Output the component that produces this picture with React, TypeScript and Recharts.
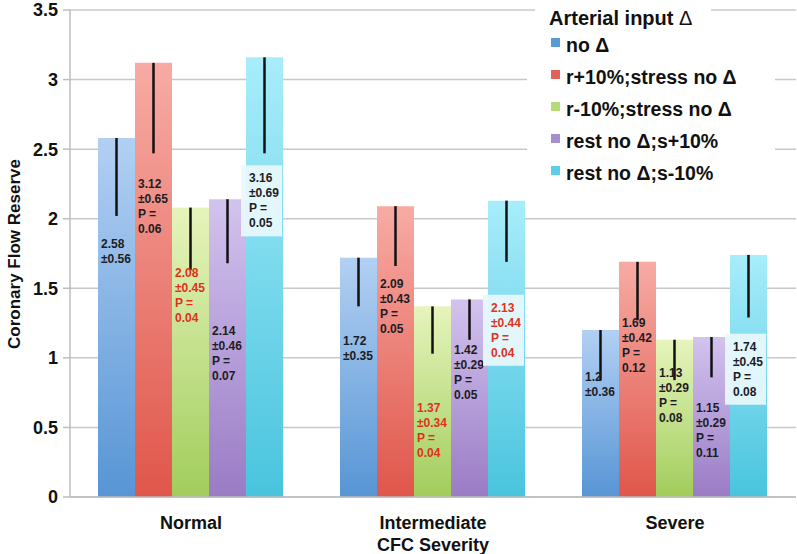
import React from 'react';
import { BarChart, Bar, XAxis, YAxis, CartesianGrid, ErrorBar, Legend } from 'recharts';

const categories = ['Normal', 'Intermediate', 'Severe'];
const seriesNames = ['no Δ', 'r+10%;stress no Δ', 'r-10%;stress no Δ', 'rest no Δ;s+10%', 'rest no Δ;s-10%'];

// mean CFR per severity
const noDelta = [2.58, 1.72, 1.2];
const rPlus = [3.12, 2.09, 1.69];
const rMinus = [2.08, 1.37, 1.13];
const sPlus = [2.14, 1.42, 1.15];
const sMinus = [3.16, 2.13, 1.74];

// standard deviations
const sdNoDelta = [0.56, 0.35, 0.36];
const sdRPlus = [0.65, 0.43, 0.42];
const sdRMinus = [0.45, 0.34, 0.29];
const sdSPlus = [0.46, 0.29, 0.29];
const sdSMinus = [0.69, 0.44, 0.45];

// p values vs no change
const pNoDelta = [null, null, null];
const pRPlus = [0.06, 0.05, 0.12];
const pRMinus = [0.04, 0.04, 0.08];
const pSPlus = [0.07, 0.05, 0.11];
const pSMinus = [0.05, 0.04, 0.08];

const yTicks = [0, 0.5, 1, 1.5, 2, 2.5, 3, 3.5];

const values = [noDelta, rPlus, rMinus, sPlus, sMinus];
const sds = [sdNoDelta, sdRPlus, sdRMinus, sdSPlus, sdSMinus];
const pvals = [pNoDelta, pRPlus, pRMinus, pSPlus, pSMinus];
const keys = ['s0', 's1', 's2', 's3', 's4'];

// where the first text line of each bar label sits (axis units) - hand placed like the original
const labelAt = [
  [1.82, 1.12, 0.86],
  [2.25, 1.53, 1.25],
  [1.61, 0.64, 0.89],
  [1.19, 1.06, 0.64],
  [2.29, 1.36, 1.08],
];

const colors = [
  { top: '#b2d0f3', bottom: '#5795d5', key: '#5b9bd5' },
  { top: '#f7aba4', bottom: '#e0564a', key: '#e2625a' },
  { top: '#e6f4bc', bottom: '#a1cd5c', key: '#b6da78' },
  { top: '#d2c3ee', bottom: '#9a7bc5', key: '#a78fcf' },
  { top: '#a8edfb', bottom: '#49c4de', key: '#5ccfe7' },
];

const data = categories.map((name, i) => {
  const row: any = { name };
  keys.forEach((k, s) => {
    row[k] = values[s][i];
    row[k + 'err'] = [sds[s][i], 0];
  });
  return row;
});

const font = '"Liberation Sans", Arial, sans-serif';

const makeLabel = (s: number) => (props: any) => {
  const { x, y, width, height, value } = props;
  let i = props.index;
  if (i == null) i = values[s].indexOf(value);
  const v = values[s][i];
  if (v == null || !height) return null;
  const bottom = y + height;
  const ppu = height / v;
  const cy = bottom - labelAt[s][i] * ppu;
  const p = pvals[s][i];
  const lines = [String(v), '±' + sds[s][i].toFixed(2)];
  if (p != null) lines.push('P =', p.toFixed(2));
  const red = p != null && p <= 0.04;
  const lh = 15;
  return (
    <g key={`lbl-${s}-${i}`}>
      {s === 4 && (
        <rect
          x={x - 5}
          y={cy - 13}
          width={width + 4}
          height={(lines.length - 1) * lh + 26}
          fill="#eaf9fc"
          fillOpacity={0.92}
        />
      )}
      <text
        x={x + 3}
        y={cy + 4}
        fontFamily={font}
        fontSize={12}
        fontWeight="bold"
        fill={red ? '#e0301e' : '#1c1c24'}
      >
        {lines.map((t, j) => (
          <tspan key={j} x={x + 3} dy={j === 0 ? 0 : lh}>
            {t}
          </tspan>
        ))}
      </text>
    </g>
  );
};

const LegendBox = () => (
  <div style={{ position: 'relative', width: 250, height: 190, fontFamily: font, fontWeight: 'bold', color: '#111' }}>
    <div style={{ position: 'absolute', left: 2, top: 0, width: 176, height: 32, background: '#fff' }} />
    <div style={{ position: 'absolute', left: -6, top: 30, width: 248, height: 160, background: '#fff' }} />
    <div style={{ position: 'absolute', left: 16, top: 5, fontSize: 20, lineHeight: '26px', whiteSpace: 'nowrap' }}>
      Arterial input <span style={{ fontWeight: 'normal' }}>Δ</span>
    </div>
    {seriesNames.map((n, s) => (
      <div
        key={n}
        style={{ position: 'absolute', left: 18, top: 32 + s * 32, height: 26, display: 'flex', alignItems: 'center', whiteSpace: 'nowrap' }}
      >
        <span style={{ display: 'inline-block', width: 9, height: 9, background: colors[s].key, marginRight: 6, marginTop: -6 }} />
        <span style={{ fontSize: 19.5 }}>{n}</span>
      </div>
    ))}
  </div>
);

const YTitle = () => (
  <text
    x={14}
    y={254}
    transform="rotate(-90 14 254)"
    textAnchor="middle"
    dominantBaseline="central"
    fontFamily={font}
    fontSize={17}
    fontWeight="bold"
    fill="#111"
  >
    Coronary Flow Reserve
  </text>
);

export default function App() {
  return (
    <div style={{ position: 'absolute', left: 0, top: 0, width: 797, height: 554, background: '#fff' }}>
      <BarChart
        width={797}
        height={554}
        data={data}
        margin={{ top: 10, right: 1, bottom: 0, left: 0 }}
        barCategoryGap={28}
        barGap={0}
      >
        <defs>
          {colors.map((c, s) => (
            <linearGradient key={s} id={`grad${s}`} x1="0" y1="0" x2="0" y2="1">
              <stop offset="0%" stopColor={c.top} />
              <stop offset="100%" stopColor={c.bottom} />
            </linearGradient>
          ))}
        </defs>
        <CartesianGrid vertical={false} stroke="#c8c8c8" strokeWidth={1.5} />
        <XAxis
          dataKey="name"
          height={57}
          axisLine={{ stroke: '#bdbdbd', strokeWidth: 1.5 }}
          tickLine={false}
          tickSize={6}
          tickMargin={13}
          tick={{ fontFamily: font, fontSize: 18, fontWeight: 'bold', fill: '#111' }}
          label={{
            value: 'CFC Severity',
            position: 'insideBottom',
            offset: 3,
            style: { fontFamily: font, fontSize: 18, fontWeight: 'bold', fill: '#111' },
          }}
        />
        <YAxis
          width={70}
          domain={[0, 3.5]}
          ticks={yTicks}
          interval={0}
          axisLine={{ stroke: '#bdbdbd', strokeWidth: 1.5 }}
          tickLine={{ stroke: '#bdbdbd', strokeWidth: 1.5 }}
          tickSize={7}
          tickMargin={5}
          tick={{ fontFamily: font, fontSize: 18, fontWeight: 'bold', fill: '#111' }}
          label={{ content: () => <YTitle /> }}
        />
        <Legend
          layout="vertical"
          align="center"
          verticalAlign="middle"
          content={() => <LegendBox />}
          wrapperStyle={{ left: 533, top: 0, width: 250, height: 190 }}
        />
        {keys.map((k, s) => (
          <Bar
            key={k}
            dataKey={k}
            name={seriesNames[s]}
            fill={`url(#grad${s})`}
            isAnimationActive={false}
            label={makeLabel(s)}
          >
            <ErrorBar
              dataKey={k + 'err'}
              direction="y"
              width={0}
              stroke="#111"
              strokeWidth={2.5}
              isAnimationActive={false}
            />
          </Bar>
        ))}
      </BarChart>
    </div>
  );
}
